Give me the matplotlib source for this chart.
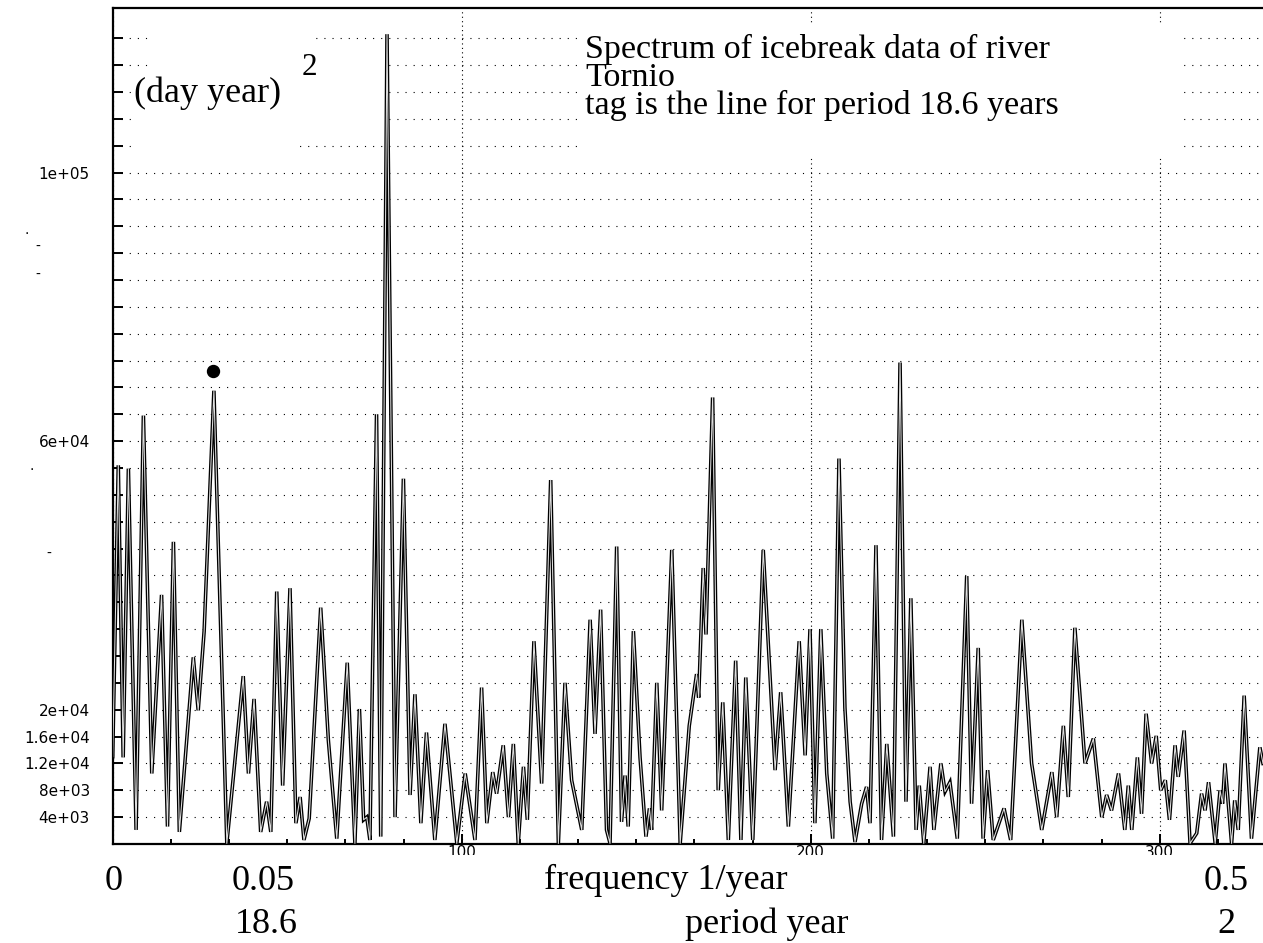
import matplotlib.pyplot as plt
from matplotlib.patches import Rectangle
from matplotlib.transforms import Bbox, TransformedBbox, blended_transform_factory
from matplotlib.ticker import MultipleLocator, FixedLocator

# spectrum of the Tornio icebreak series: frequency bin index vs power (in 1e3 day^2 year^2)
freq_bin = [0.0, 1.6, 3.0, 4.5, 6.7, 8.8, 11.2, 14.0, 15.7, 17.4, 19.1, 23.1, 24.5, 26.2, 29.0,
            32.7, 37.4, 38.9, 40.5, 42.4, 44.1, 45.3, 47.0, 48.7, 50.8, 52.5, 53.7, 54.8, 56.3,
            59.6, 61.8, 64.2, 67.2, 69.4, 70.7, 71.9, 72.8, 73.7, 75.6, 76.8, 78.6, 80.9, 83.3,
            85.2, 86.6, 88.3, 89.9, 92.3, 95.2, 98.6, 101.0, 103.8, 105.7, 107.2, 108.9, 110.0,
            111.9, 113.4, 114.8, 116.2, 117.7, 118.8, 120.7, 122.9, 125.5, 127.7, 129.6, 131.5,
            134.4, 136.8, 138.2, 139.8, 141.5, 142.5, 144.4, 145.8, 146.8, 147.7, 149.2, 151.1,
            152.8, 153.8, 154.4, 155.9, 157.3, 160.2, 162.6, 165.2, 167.3, 167.9, 169.2, 170.0,
            171.9, 173.5, 174.8, 176.4, 178.5, 180.0, 181.4, 183.4, 186.4, 189.8, 191.4, 193.6,
            196.7, 198.4, 199.8, 201.2, 202.9, 204.6, 206.3, 208.1, 209.8, 211.3, 212.7, 214.6,
            216.0, 217.0, 218.7, 220.3, 221.8, 223.7, 225.6, 227.3, 228.7, 230.2, 231.1, 232.4,
            234.2, 235.3, 237.3, 238.5, 239.9, 242.0, 244.7, 246.1, 248.0, 249.4, 250.7, 252.3,
            255.4, 257.3, 260.5, 263.3, 266.2, 269.1, 270.5, 272.4, 273.8, 275.7, 278.6, 281.0,
            283.4, 284.8, 286.2, 288.2, 290.0, 291.0, 292.0, 293.6, 294.8, 296.1, 297.7, 299.0,
            300.3, 301.6, 302.8, 304.4, 305.3, 307.0, 308.7, 310.6, 312.0, 313.0, 314.0, 315.9,
            317.3, 318.0, 318.7, 320.6, 321.5, 322.5, 324.2, 326.3, 328.7, 329.6]
power_k = [13.0, 56.4, 12.9, 55.9, 2.1, 63.8, 10.5, 37.1, 2.6, 45.0, 1.8, 27.8, 19.9, 31.7, 67.5,
           0.1, 25.0, 10.5, 21.6, 1.8, 6.3, 1.8, 37.6, 8.7, 38.1, 3.1, 7.0, 0.6, 3.8,
           35.2, 15.4, 0.8, 27.0, 0.1, 20.1, 3.6, 4.0, 0.6, 64.0, 1.1, 120.6, 4.0, 54.4,
           7.3, 22.3, 3.1, 16.6, 0.6, 17.9, 0.1, 10.5, 0.6, 23.3, 3.1, 10.7, 7.5,
           14.7, 4.0, 14.9, 0.1, 11.5, 3.6, 30.2, 9.0, 54.2, 0.1, 24.0, 9.5,
           2.1, 33.4, 16.4, 34.9, 2.1, 0.1, 44.3, 3.3, 10.2, 2.6, 31.7, 12.9,
           1.1, 5.3, 2.1, 24.0, 5.0, 43.8, 0.1, 17.6, 25.3, 21.8, 41.1, 31.2,
           66.5, 8.0, 21.1, 0.6, 27.3, 0.6, 24.8, 0.6, 43.8, 11.0, 22.6, 2.6,
           30.2, 13.2, 32.0, 3.1, 32.0, 10.5, 0.8, 57.4, 20.3, 6.3, 0.3, 6.0,
           8.5, 3.1, 44.5, 0.6, 14.9, 1.1, 71.7, 6.3, 36.6, 2.1, 8.7, 0.1,
           11.5, 2.1, 12.0, 7.8, 9.2, 0.8, 39.9, 6.0, 29.2, 0.8, 11.0, 0.6,
           5.3, 0.6, 33.4, 12.0, 2.1, 10.7, 4.0, 17.6, 7.0, 32.2, 12.0, 15.7,
           4.0, 7.3, 5.0, 10.5, 2.1, 8.7, 2.1, 12.9, 4.5, 19.4, 12.0, 16.1,
           8.0, 9.5, 3.6, 14.7, 10.0, 16.9, 0.1, 1.6, 7.5, 5.0, 9.2, 0.1,
           8.0, 6.0, 12.0, 0.1, 6.5, 2.1, 22.1, 0.8, 14.4, 12.0]

# tag above the 18.6 year line
tag_bin = 28.7
tag_power_k = 70.4

ytick_vals = list(range(0, 124000, 4000))
ytick_text = {4000: '4e+03', 8000: '8e+03', 12000: '1.2e+04', 16000: '1.6e+04',
              20000: '2e+04', 60000: '6e+04', 100000: '1e+05'}

W, H = 1263, 943
fig = plt.figure(figsize=(W / 100, H / 100), dpi=100)


def fx(px):
    return px / W


def fy(py):
    return 1 - py / H


ax = fig.add_axes([fx(112.7), fy(844), 1 - fx(112.7), (844 - 8) / H])
ax.set_xlim(0, 329.6)
ax.set_ylim(0, 124500)
ax.set_axisbelow(True)

power = [p * 1000 for p in power_k]
# double-stroked trace: thick black with a light core
ax.plot(freq_bin, power, color='black', lw=2.6, zorder=3, solid_joinstyle='miter')
ax.plot(freq_bin, power, color='#e0e0e0', lw=0.75, zorder=3.1)
ax.plot(tag_bin, tag_power_k * 1000, 'o', color='black', ms=8.6, zorder=4)

# grid
ax.yaxis.set_major_locator(FixedLocator(ytick_vals))
ax.set_yticklabels([ytick_text.get(v, '') for v in ytick_vals])
ax.xaxis.set_major_locator(MultipleLocator(100))
ax.xaxis.set_minor_locator(MultipleLocator(100 / 6))
ax.set_xticklabels([])
ax.yaxis.grid(True, color='black', lw=0.8, ls=(0, (1, 6.3)))
ax.xaxis.grid(True, which='major', color='black', lw=0.8, ls=(0, (1, 3)))

ax.tick_params(axis='y', direction='in', length=7.2, width=1.4, pad=16.5,
               labelsize=11, labelfontfamily='DejaVu Sans')
ax.tick_params(axis='x', which='major', direction='in', length=7, width=1.4)
ax.tick_params(axis='x', which='minor', direction='in', length=3.6, width=1.4)
for side in ['left', 'top', 'bottom']:
    ax.spines[side].set_linewidth(1.6)
ax.spines['right'].set_visible(False)


def white_box(x0, y0, x1, y1):
    ax.add_patch(Rectangle((fx(x0), fy(y1)), fx(x1) - fx(x0), fy(y0) - fy(y1),
                           transform=fig.transFigure, facecolor='white',
                           edgecolor='none', zorder=1))


# areas left clear behind the annotations
white_box(148, 28, 312, 52)
white_box(148, 52, 385, 78)
white_box(133, 78, 385, 132)
white_box(133, 132, 295, 158)
white_box(580, 25, 1182, 158)

serif = 'Liberation Serif'
fig.text(fx(134), fy(102), '(day year)', family=serif, fontsize=26, va='baseline')
fig.text(fx(302), fy(75), '2', family=serif, fontsize=22.5, va='baseline')
title = ('Spectrum of icebreak data of river\n'
         'Tornio\n'
         'tag is the line for period 18.6 years')
fig.text(fx(585), fy(34), title, family=serif, fontsize=24.5, va='top', linespacing=0.89)

# bottom annotation rows
row1, row2 = 890, 933
fig.text(fx(114), fy(row1), '0', family=serif, fontsize=26, ha='center', va='baseline')
fig.text(fx(263), fy(row1), '0.05', family=serif, fontsize=26, ha='center', va='baseline')
fig.text(fx(666), fy(row1 - 1), 'frequency 1/year', family=serif, fontsize=26, ha='center', va='baseline')
fig.text(fx(1226), fy(row1), '0.5', family=serif, fontsize=26, ha='center', va='baseline')
fig.text(fx(266), fy(row2), '18.6', family=serif, fontsize=26, ha='center', va='baseline')
fig.text(fx(767), fy(row2), 'period year', family=serif, fontsize=26, ha='center', va='baseline')
fig.text(fx(1226), fy(row2), '2', family=serif, fontsize=26, ha='center', va='baseline')

# bin labels, cut off just below the axis
bin_tr = blended_transform_factory(ax.transData, fig.transFigure)
clip = TransformedBbox(Bbox.from_extents(0, fy(855), 1, 1), fig.transFigure)
for b in [100, 200, 300]:
    t = fig.text(b, fy(845), str(b), transform=bin_tr, fontsize=11,
                 family='DejaVu Sans', ha='center', va='top')
    t.set_clip_box(clip)
    t.set_clip_on(True)

# stray marks beside the power axis
for px, py, s in [(27, 230, '.'), (38, 247, '-'), (38, 275, '-'), (32, 466, '.'), (49, 554, '-')]:
    fig.text(fx(px), fy(py), s, fontsize=10, family='DejaVu Sans', ha='center', va='center')

fig.savefig('out.png', dpi=100)
